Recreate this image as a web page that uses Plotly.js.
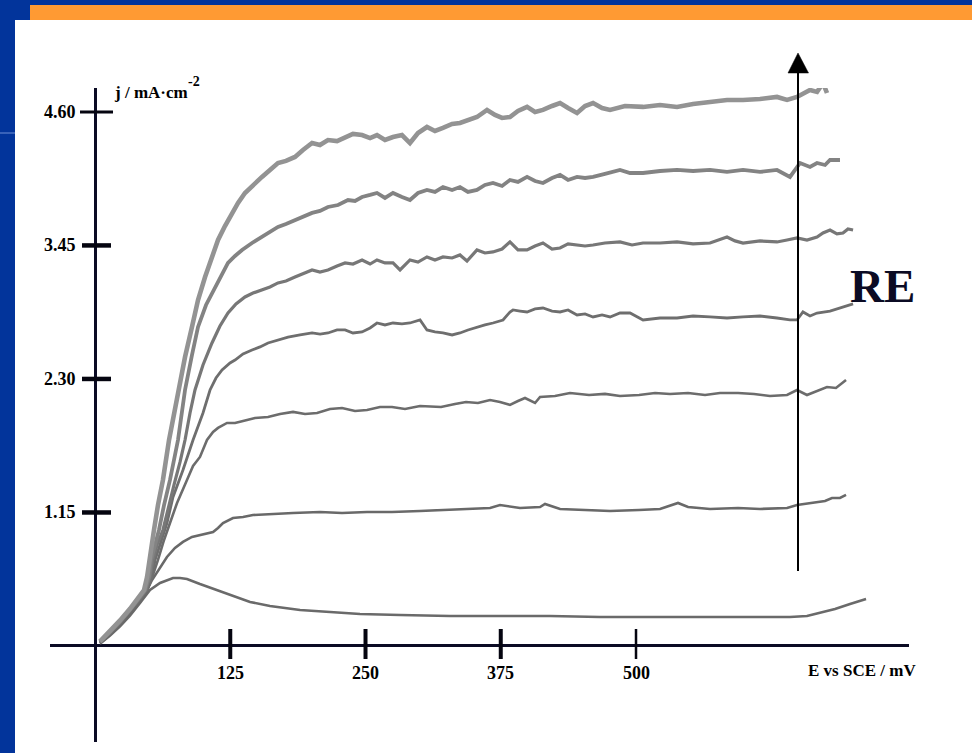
<!DOCTYPE html>
<html>
<head>
<meta charset="utf-8">
<script src="https://cdn.plot.ly/plotly-3.0.1.min.js"></script>
<style>
  html, body { margin: 0; padding: 0; background: #ffffff; overflow: hidden; }
  #chart { width: 972px; height: 753px; }
</style>
</head>
<body>
<div id="chart"></div>
<script>
// Potentiodynamic polarisation curves: current density j (mA·cm-2) vs potential E (mV vs SCE)

// Foot of the curves near the origin (shared potentials)
const E_FOOT = [4.6, 13.9, 23.1, 32.3, 41.6];

// Curve 1 (active peak, then passive plateau)
const J_FOOT_C1 = [0.020, 0.090, 0.170, 0.262, 0.370];
const E_C1 = [50.8, 60.1, 72.1, 78.6, 85.0, 97.0, 112.8, 129.4, 143.3, 161.7, 189.5, 217.2, 244.9, 281.9, 328.1, 374.3, 420.5, 466.7, 512.9, 559.1, 605.4, 642.3, 658.0, 670.1, 683.9, 697.8, 712.6];
const J_C1 = [0.482, 0.543, 0.586, 0.586, 0.577, 0.534, 0.482, 0.422, 0.379, 0.345, 0.310, 0.293, 0.276, 0.267, 0.258, 0.258, 0.258, 0.250, 0.250, 0.250, 0.250, 0.250, 0.258, 0.284, 0.319, 0.362, 0.405];

// Curve 2
const J_FOOT_C2 = [0.024, 0.097, 0.180, 0.275, 0.382];
const E_C2 = [48.1, 52.7, 60.1, 66.5, 73.9, 81.3, 89.6, 97.0, 109.1, 113.7, 118.3, 127.5, 136.8, 146.0, 161.7, 183.0, 207.9, 228.3, 251.4, 274.5, 300.4, 319.8, 346.6, 365.1, 374.3, 392.8, 411.3, 415.9, 429.8, 456.6, 476.0, 502.8, 522.2, 538.8, 548.1, 568.4, 594.3, 614.6, 639.6, 648.8, 662.7, 674.7, 681.1, 688.5, 694.1];
const J_C2 = [0.482, 0.568, 0.680, 0.767, 0.844, 0.896, 0.939, 0.956, 0.982, 1.016, 1.059, 1.102, 1.111, 1.128, 1.137, 1.146, 1.154, 1.146, 1.154, 1.154, 1.163, 1.171, 1.180, 1.189, 1.214, 1.189, 1.197, 1.223, 1.180, 1.171, 1.163, 1.171, 1.180, 1.232, 1.197, 1.180, 1.189, 1.180, 1.189, 1.214, 1.232, 1.249, 1.275, 1.275, 1.301];

// Curve 3
const J_FOOT_C3 = [0.027, 0.102, 0.188, 0.285, 0.392];
const E_C3 = [48.1, 53.6, 58.2, 63.8, 69.3, 75.8, 85.0, 90.6, 97.0, 103.5, 109.1, 113.7, 122.0, 129.4, 136.8, 147.9, 159.9, 171.0, 183.0, 194.1, 205.2, 217.2, 228.3, 240.3, 251.4, 263.4, 274.5, 286.5, 300.4, 319.8, 332.7, 342.9, 353.9, 365.1, 374.3, 383.5, 390.9, 397.4, 406.7, 411.3, 425.1, 439.0, 456.6, 471.3, 485.2, 502.8, 517.6, 531.4, 548.1, 563.8, 577.6, 594.3, 609.1, 623.8, 639.6, 648.8, 658.0, 667.3, 676.5, 684.8, 694.1];
const J_C3 = [0.482, 0.612, 0.741, 0.913, 1.059, 1.232, 1.430, 1.550, 1.628, 1.774, 1.843, 1.878, 1.921, 1.921, 1.938, 1.964, 1.972, 1.998, 2.016, 1.998, 2.007, 2.041, 2.050, 2.024, 2.033, 2.059, 2.059, 2.041, 2.067, 2.059, 2.084, 2.102, 2.093, 2.119, 2.102, 2.076, 2.110, 2.136, 2.093, 2.145, 2.153, 2.179, 2.162, 2.171, 2.153, 2.162, 2.179, 2.171, 2.179, 2.162, 2.179, 2.179, 2.171, 2.153, 2.162, 2.205, 2.162, 2.196, 2.231, 2.222, 2.291];

// Curve 4
const J_FOOT_C4 = [0.030, 0.108, 0.196, 0.294, 0.402];
const E_C4 = [48.1, 52.7, 55.5, 60.1, 66.5, 72.1, 81.3, 90.6, 99.8, 106.3, 111.8, 117.4, 124.8, 129.4, 136.8, 145.1, 152.5, 159.9, 169.1, 178.4, 189.5, 200.6, 208.0, 215.3, 223.7, 231.1, 238.4, 246.8, 254.2, 260.6, 268.0, 275.4, 283.7, 291.1, 300.4, 306.8, 314.2, 321.6, 330.0, 337.3, 344.7, 353.0, 360.4, 367.8, 377.1, 383.5, 386.3, 392.8, 399.3, 406.7, 414.0, 422.4, 429.8, 437.2, 445.5, 452.9, 460.3, 468.6, 476.0, 485.2, 494.5, 506.5, 522.2, 537.9, 552.7, 568.4, 584.1, 598.9, 614.6, 630.3, 642.3, 648.8, 654.3, 660.8, 667.3, 679.3, 691.3, 700.6];
const J_C4 = [0.482, 0.594, 0.741, 0.870, 1.059, 1.283, 1.516, 1.774, 2.007, 2.205, 2.308, 2.377, 2.438, 2.463, 2.515, 2.550, 2.576, 2.610, 2.636, 2.661, 2.679, 2.696, 2.687, 2.696, 2.722, 2.722, 2.696, 2.705, 2.739, 2.782, 2.765, 2.782, 2.774, 2.782, 2.808, 2.722, 2.705, 2.696, 2.679, 2.696, 2.722, 2.748, 2.765, 2.782, 2.808, 2.877, 2.894, 2.885, 2.877, 2.903, 2.911, 2.885, 2.877, 2.894, 2.851, 2.860, 2.834, 2.851, 2.834, 2.868, 2.868, 2.808, 2.825, 2.825, 2.842, 2.834, 2.825, 2.834, 2.842, 2.825, 2.808, 2.808, 2.877, 2.842, 2.868, 2.885, 2.920, 2.946];

// Curve 5
const J_FOOT_C5 = [0.033, 0.114, 0.204, 0.303, 0.412];
const E_C5 = [47.1, 50.8, 53.6, 57.3, 62.8, 67.5, 73.0, 78.6, 83.2, 87.8, 92.4, 99.8, 108.1, 115.5, 122.9, 130.3, 138.6, 146.0, 154.3, 161.7, 169.1, 176.5, 184.8, 192.2, 200.6, 207.9, 215.3, 223.7, 231.1, 238.4, 246.8, 254.2, 260.6, 268.0, 275.4, 281.9, 291.1, 298.5, 306.8, 314.2, 321.6, 330.0, 337.3, 343.8, 353.0, 360.4, 367.8, 376.2, 383.5, 390.9, 399.3, 406.7, 414.0, 422.4, 429.8, 437.2, 445.5, 452.9, 460.3, 471.3, 485.2, 496.3, 506.5, 522.2, 537.9, 552.7, 568.4, 575.8, 584.1, 591.5, 598.9, 614.6, 630.3, 639.6, 648.8, 658.0, 667.3, 672.8, 679.3, 685.7, 691.3, 695.9, 700.6];
const J_C5 = [0.482, 0.594, 0.741, 0.870, 0.999, 1.189, 1.387, 1.585, 1.774, 2.007, 2.205, 2.420, 2.610, 2.756, 2.868, 2.946, 3.006, 3.040, 3.066, 3.092, 3.127, 3.144, 3.178, 3.204, 3.239, 3.221, 3.239, 3.273, 3.299, 3.290, 3.325, 3.290, 3.325, 3.299, 3.299, 3.239, 3.325, 3.307, 3.351, 3.325, 3.351, 3.342, 3.368, 3.316, 3.411, 3.385, 3.394, 3.419, 3.480, 3.411, 3.411, 3.445, 3.471, 3.419, 3.428, 3.463, 3.454, 3.445, 3.454, 3.471, 3.480, 3.454, 3.471, 3.471, 3.480, 3.463, 3.471, 3.497, 3.523, 3.489, 3.471, 3.489, 3.480, 3.497, 3.514, 3.497, 3.523, 3.557, 3.583, 3.549, 3.557, 3.592, 3.583];

// Curve 6
const J_FOOT_C6 = [0.036, 0.120, 0.212, 0.312, 0.420];
const E_C6 = [46.2, 49.9, 51.8, 55.5, 59.1, 63.8, 69.3, 76.7, 83.2, 89.6, 95.2, 102.6, 110.9, 117.4, 122.9, 129.4, 135.9, 145.1, 154.3, 161.7, 169.1, 176.5, 184.8, 192.2, 200.6, 207.9, 215.3, 224.6, 233.8, 240.3, 246.8, 254.2, 260.6, 268.0, 275.4, 283.7, 291.1, 298.5, 306.8, 314.2, 321.6, 330.0, 337.3, 344.7, 353.0, 360.4, 367.8, 376.2, 383.5, 390.9, 399.3, 406.7, 414.0, 422.4, 429.8, 437.2, 445.5, 452.9, 460.3, 471.3, 485.2, 494.5, 506.5, 522.2, 537.9, 552.7, 568.4, 584.1, 598.9, 614.6, 630.3, 642.3, 651.6, 660.8, 667.3, 674.7, 679.3, 688.5];
const J_C6 = [0.482, 0.594, 0.741, 0.870, 0.999, 1.214, 1.430, 1.774, 2.205, 2.506, 2.748, 2.937, 3.092, 3.213, 3.299, 3.359, 3.411, 3.471, 3.523, 3.566, 3.609, 3.635, 3.669, 3.704, 3.730, 3.747, 3.781, 3.798, 3.841, 3.833, 3.867, 3.885, 3.902, 3.859, 3.902, 3.867, 3.841, 3.902, 3.928, 3.911, 3.953, 3.928, 3.953, 3.911, 3.928, 3.971, 3.988, 3.962, 4.014, 3.997, 4.040, 4.005, 3.988, 4.031, 4.057, 4.014, 4.040, 4.031, 4.040, 4.066, 4.100, 4.074, 4.074, 4.091, 4.100, 4.091, 4.100, 4.083, 4.100, 4.083, 4.100, 4.040, 4.160, 4.126, 4.160, 4.143, 4.186, 4.186];

// Curve 7 (highest current)
const J_FOOT_C7 = [0.040, 0.126, 0.220, 0.320, 0.430];
const E_C7 = [45.3, 48.1, 50.8, 52.7, 54.5, 58.2, 62.8, 68.4, 73.0, 76.7, 83.2, 89.6, 95.2, 101.7, 108.1, 113.7, 120.1, 126.6, 132.2, 138.6, 146.0, 154.3, 161.7, 169.1, 176.5, 184.8, 192.2, 200.6, 207.9, 215.3, 223.7, 231.1, 238.4, 246.8, 254.2, 260.6, 268.0, 275.4, 283.7, 291.1, 298.5, 306.8, 314.2, 321.6, 330.0, 337.3, 344.7, 353.0, 362.3, 369.7, 376.2, 383.5, 390.9, 399.3, 406.7, 414.0, 422.4, 429.8, 437.2, 445.5, 452.9, 460.3, 468.6, 476.0, 489.8, 506.5, 522.2, 537.9, 552.7, 568.4, 584.1, 598.9, 614.6, 630.3, 639.6, 648.8, 654.3, 660.8, 667.3, 672.8, 676.5];
const J_C7 = [0.482, 0.594, 0.741, 0.870, 0.999, 1.214, 1.430, 1.774, 1.990, 2.205, 2.489, 2.748, 2.980, 3.178, 3.351, 3.497, 3.617, 3.730, 3.816, 3.902, 3.971, 4.040, 4.100, 4.160, 4.178, 4.212, 4.272, 4.332, 4.315, 4.358, 4.349, 4.384, 4.410, 4.401, 4.375, 4.401, 4.358, 4.384, 4.401, 4.332, 4.418, 4.470, 4.436, 4.462, 4.496, 4.505, 4.531, 4.556, 4.617, 4.574, 4.548, 4.556, 4.608, 4.643, 4.599, 4.617, 4.651, 4.677, 4.634, 4.591, 4.651, 4.677, 4.634, 4.617, 4.651, 4.643, 4.660, 4.643, 4.668, 4.686, 4.703, 4.703, 4.711, 4.729, 4.703, 4.729, 4.755, 4.789, 4.772, 4.849, 4.763];

// Axis ticks
const X_TICK_VALS = [125, 250, 375, 500];
const X_TICK_TEXT = ['125', '250', '375', '500'];
const Y_TICK_VALS = [1.15, 2.30, 3.45, 4.60];
const Y_TICK_TEXT = ['1.15', '2.30', '3.45', '4.60'];

// Figure geometry
const W = 972, H = 753;
const M = { l: 50, r: 63, t: 88, b: 11 };
const PW = W - M.l - M.r, PH = H - M.t - M.b;
const px2x = p => (p - M.l) / PW;
const py2y = p => (H - M.b - p) / PH;

const SERIF = 'Liberation Serif, "Times New Roman", Times, serif';
const INK = '#0b0b24';

function curve(jFoot, e, j, color, width) {
  return {
    x: E_FOOT.concat(e),
    y: jFoot.concat(j),
    type: 'scatter',
    mode: 'lines',
    line: { color: color, width: width, shape: 'linear' },
    hoverinfo: 'skip'
  };
}

const traces = [
  curve(J_FOOT_C1, E_C1, J_C1, '#6a6a6a', 2.6),
  curve(J_FOOT_C2, E_C2, J_C2, '#696969', 2.6),
  curve(J_FOOT_C3, E_C3, J_C3, '#6c6c6c', 2.6),
  curve(J_FOOT_C4, E_C4, J_C4, '#6e6e6e', 2.8),
  curve(J_FOOT_C5, E_C5, J_C5, '#777777', 3.2),
  curve(J_FOOT_C6, E_C6, J_C6, '#838383', 3.8),
  curve(J_FOOT_C7, E_C7, J_C7, '#939393', 4.6)
];

// Slide frame: blue border and orange band
const frame = [
  { type: 'rect', xref: 'paper', yref: 'paper', x0: px2x(0), x1: px2x(15), y0: py2y(H), y1: py2y(0),
    fillcolor: '#02349b', line: { width: 0 }, layer: 'below' },
  { type: 'rect', xref: 'paper', yref: 'paper', x0: px2x(0), x1: px2x(W), y0: py2y(5), y1: py2y(0),
    fillcolor: '#02349b', line: { width: 0 }, layer: 'below' },
  { type: 'rect', xref: 'paper', yref: 'paper', x0: px2x(0), x1: px2x(30), y0: py2y(20), y1: py2y(0),
    fillcolor: '#02349b', line: { width: 0 }, layer: 'below' },
  { type: 'rect', xref: 'paper', yref: 'paper', x0: px2x(30), x1: px2x(W), y0: py2y(20), y1: py2y(5),
    fillcolor: '#ff9a33', line: { width: 0 }, layer: 'below' },
  { type: 'line', xref: 'paper', yref: 'paper', x0: px2x(0), x1: px2x(15), y0: py2y(133), y1: py2y(133),
    line: { color: '#6f8fd6', width: 1 }, layer: 'below' }
];

// Upward arrow showing the direction of increasing RE
const reArrow = [
  { type: 'line', xref: 'paper', yref: 'paper', x0: px2x(798), x1: px2x(798), y0: py2y(571), y1: py2y(72),
    line: { color: '#000000', width: 2 } },
  { type: 'path', xref: 'paper', yref: 'paper',
    path: 'M ' + px2x(788) + ' ' + py2y(73) + ' L ' + px2x(808.5) + ' ' + py2y(73) + ' L ' + px2x(798) + ' ' + py2y(53) + ' Z',
    fillcolor: '#000000', line: { color: '#000000', width: 0.5 } }
];

// Tick marks crossing the axes
const xTickMarks = X_TICK_VALS.map((v, i) => ({
  type: 'line', xref: 'x', yref: 'y', x0: v, x1: v,
  ysizemode: 'pixel', yanchor: 0, y0: -13, y1: 17,
  line: { color: '#050510', width: i === X_TICK_VALS.length - 1 ? 2.5 : 4 }
}));
const yTickMarks = Y_TICK_VALS.map((v, i) => ({
  type: 'line', xref: 'x', yref: 'y', y0: v, y1: v,
  xsizemode: 'pixel', xanchor: 0,
  x0: i === Y_TICK_VALS.length - 1 ? -15 : -13,
  x1: i === Y_TICK_VALS.length - 1 ? 18 : 16,
  line: { color: '#050510', width: i === Y_TICK_VALS.length - 1 ? 3 : 4.5 }
}));

const tickFont = { family: SERIF, size: 18, color: '#000000', weight: 700 };
const labelFont = { family: SERIF, size: 17, color: '#000000', weight: 700 };

const xTickLabels = X_TICK_VALS.map((v, i) => ({
  x: v, y: 0, xref: 'x', yref: 'y', text: '<b>' + X_TICK_TEXT[i] + '</b>',
  showarrow: false, xanchor: 'center', yanchor: 'middle', yshift: -27, font: tickFont
}));
const yTickLabels = Y_TICK_VALS.map((v, i) => ({
  x: 0, y: v, xref: 'x', yref: 'y', text: '<b>' + Y_TICK_TEXT[i] + '</b>',
  showarrow: false, xanchor: 'right', yanchor: 'middle', xshift: -17, font: tickFont
}));

const annotations = xTickLabels.concat(yTickLabels, [
  // y-axis quantity and unit, with the exponent set as a raised label
  { x: 16.6, y: 4.767, xref: 'x', yref: 'y', text: '<b>j / mA·cm</b>',
    showarrow: false, xanchor: 'left', yanchor: 'middle', borderpad: 0, font: labelFont },
  { x: 0, y: 4.767, xref: 'x', yref: 'y', text: '<b>-2</b>', xshift: 92, yshift: 11,
    showarrow: false, xanchor: 'left', yanchor: 'middle', borderpad: 0,
    font: { family: SERIF, size: 14, color: '#000000', weight: 700 } },
  { x: 708.9, y: 0, xref: 'x', yref: 'y', text: '<b>E vs SCE / mV</b>',
    showarrow: false, xanchor: 'center', yanchor: 'middle', yshift: -25, font: labelFont },
  { x: 727.4, y: 3.10, xref: 'x', yref: 'y', text: '<b>RE</b>',
    showarrow: false, xanchor: 'center', yanchor: 'middle', font: { family: SERIF, size: 47, color: INK, weight: 700 } }
]);

const layout = {
  width: W, height: H,
  margin: M,
  paper_bgcolor: '#ffffff',
  plot_bgcolor: '#ffffff',
  showlegend: false,
  hovermode: false,
  xaxis: {
    range: [-41.6, 752.3],
    showgrid: false, showticklabels: false, ticks: '', showline: false,
    zeroline: true, zerolinecolor: INK, zerolinewidth: 3, fixedrange: true
  },
  yaxis: {
    range: [-0.827, 4.806],
    showgrid: false, showticklabels: false, ticks: '', showline: false,
    zeroline: true, zerolinecolor: INK, zerolinewidth: 3, fixedrange: true
  },
  shapes: frame.concat(reArrow, xTickMarks, yTickMarks),
  annotations: annotations
};

Plotly.newPlot('chart', traces, layout, { staticPlot: true, displayModeBar: false });
</script>
</body>
</html>
